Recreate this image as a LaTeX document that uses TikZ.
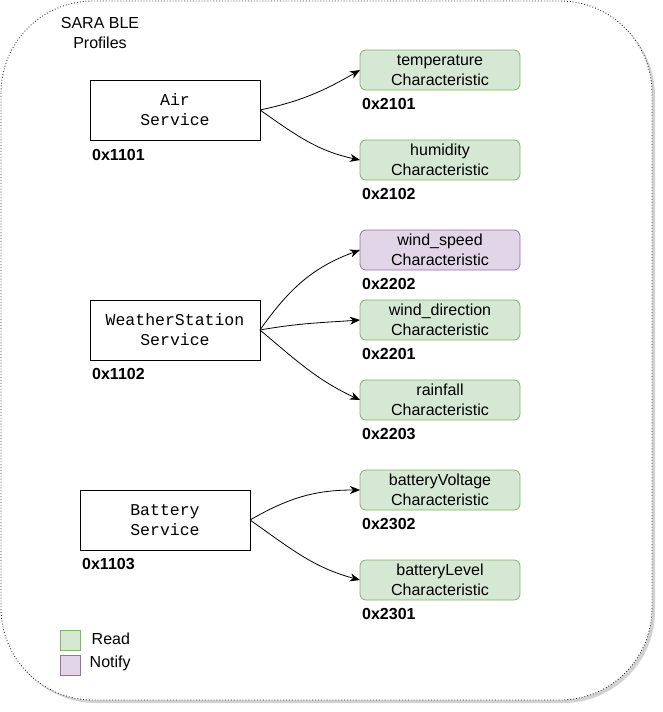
\documentclass[tikz,border=0pt]{standalone}
\usepackage{fontspec}
\setmainfont{Liberation Sans}
\newfontfamily\monofnt{Liberation Mono}
\usetikzlibrary{arrows.meta}
\definecolor{rfill}{HTML}{D5E8D4}
\definecolor{rstroke}{HTML}{82B366}
\definecolor{nfill}{HTML}{E1D5E7}
\definecolor{nstroke}{HTML}{9673A6}
\begin{document}
\begin{tikzpicture}[x=1pt,y=-1pt,
 svc/.style={draw, line width=1pt, fill=white, minimum width=170pt, minimum height=60pt, inner sep=0pt, outer sep=0pt, align=center, font=\monofnt\fontsize{16.5}{20}\selectfont},
 chr/.style={draw=rstroke, fill=rfill, line width=0.8pt, rounded corners=6pt, minimum width=160pt, minimum height=40pt, inner sep=0pt, outer sep=0pt, align=center, font=\fontsize{16}{20}\selectfont},
 ntf/.style={chr, draw=nstroke, fill=nfill},
 hex/.style={anchor=west, inner sep=0pt, font=\bfseries\fontsize{16}{20}\selectfont},
 plain/.style={inner sep=0pt, align=center, font=\fontsize{16}{20}\selectfont},
 legbox/.style={minimum width=20pt, minimum height=20pt, inner sep=0pt, line width=0.8pt},
 conn/.style={-{Stealth[length=10pt,width=8pt,inset=3pt]}, line width=0.8pt}
]
\useasboundingbox (0,0) rectangle (662,712);
% outer container with shadow
\fill[gray!35, rounded corners=92pt] (4,4) rectangle (655,703);
\draw[fill=white, draw=black!80, dotted, line width=0.9pt, rounded corners=92pt] (1,1) rectangle (652,700);

\node[plain] (title) at (100,33) {SARA BLE\\Profiles};

% services
\node[svc] (air) at (175,110) {Air\\Service};
\node[svc] (ws) at (175,330) {WeatherStation\\Service};
\node[svc] (bat) at (165,520) {Battery\\Service};
\node[hex] (h1101) at (92,155) {0x1101};
\node[hex] (h1102) at (92,373.5) {0x1102};
\node[hex] (h1103) at (82,563.5) {0x1103};

% characteristics
\node[chr] (temp) at (440,70) {temperature\\Characteristic};
\node[chr] (hum) at (440,160) {humidity\\Characteristic};
\node[ntf] (wspd) at (440,250) {wind\_speed\\Characteristic};
\node[chr] (wdir) at (440,320) {wind\_direction\\Characteristic};
\node[chr] (rain) at (440,400) {rainfall\\Characteristic};
\node[chr] (bv) at (440,490) {batteryVoltage\\Characteristic};
\node[chr] (bl) at (440,580) {batteryLevel\\Characteristic};
\node[hex] (h2101) at (362,103.5) {0x2101};
\node[hex] (h2102) at (362,193.5) {0x2102};
\node[hex] (h2202) at (362,283.5) {0x2202};
\node[hex] (h2201) at (362,353.5) {0x2201};
\node[hex] (h2203) at (362,433.5) {0x2203};
\node[hex] (h2302) at (362,523.5) {0x2302};
\node[hex] (h2301) at (362,613.5) {0x2301};

% connectors
\draw[conn] (air.east) to[out=12,in=-150] (temp.west);
\draw[conn] (air.east) to[out=-35,in=168] (hum.west);
\draw[conn] (ws.east) to[out=55,in=-160] (wspd.west);
\draw[conn] (ws.east) to[out=10,in=-176] (wdir.west);
\draw[conn] (ws.east) to[out=-40,in=155] (rain.west);
\draw[conn] (bat.east) to[out=30,in=180] (bv.west);
\draw[conn] (bat.east) to[out=-35,in=165] (bl.west);

% legend
\node[legbox, draw=rstroke, fill=rfill] (lread) at (70,640) {};
\node[legbox, draw=nstroke, fill=nfill] (lnot) at (70,665) {};
\node[plain, anchor=west] (tread) at (91.5,639) {Read};
\node[plain, anchor=west] (tnot) at (89.5,663) {Notify};
\end{tikzpicture}
\end{document}
